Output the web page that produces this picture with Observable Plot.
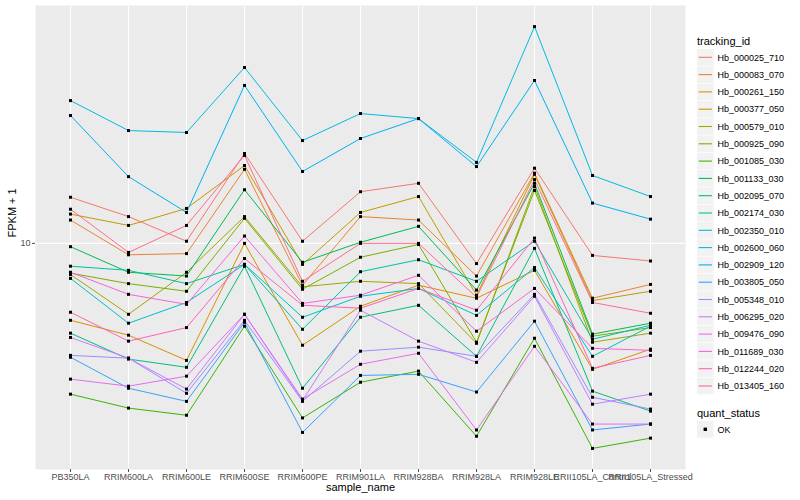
<!DOCTYPE html>
<html>
<head>
<meta charset="utf-8">
<script src="https://cdn.jsdelivr.net/npm/d3@7"></script>
<script src="https://cdn.jsdelivr.net/npm/@observablehq/plot@0.6"></script>
<style>
  html, body { margin: 0; padding: 0; background: white; }
  #chart svg { display: block; }
</style>
</head>
<body>
<div id="chart"></div>
<script>
// x categories
const samples = ["PB350LA","RRIM600LA","RRIM600LE","RRIM600SE","RRIM600PE","RRIM901LA","RRIM928BA","RRIM928LA","RRIM928LE","RRII105LA_Control","RRII105LA_Stressed"];

// tracking ids (legend order)
const trackingIds = ["Hb_000025_710","Hb_000083_070","Hb_000261_150","Hb_000377_050","Hb_000579_010","Hb_000925_090","Hb_001085_030","Hb_001133_030","Hb_002095_070","Hb_002174_030","Hb_002350_010","Hb_002600_060","Hb_002909_120","Hb_003805_050","Hb_005348_010","Hb_006295_020","Hb_009476_090","Hb_011689_030","Hb_012244_020","Hb_013405_160"];

// FPKM + 1 per sample (same order as samples)
const Hb_000025_710 = [15.3, 12.8, 10.2, 22.9, 10.2, 16.1, 17.4, 8.3, 20.0, 8.95, 8.5];
const Hb_000083_070 = [12.4, 9.0, 9.1, 19.8, 6.8, 12.8, 12.4, 7.4, 19.1, 6.03, 6.85];
const Hb_000261_150 = [4.92, 4.29, 3.4, 10.0, 3.91, 5.6, 6.8, 6.03, 7.8, 3.13, 3.77];
const Hb_000377_050 = [13.1, 11.8, 13.8, 20.5, 8.24, 13.3, 15.4, 6.2, 18.9, 5.9, 6.43];
const Hb_000579_010 = [7.5, 5.2, 7.66, 12.8, 6.7, 7.05, 6.9, 3.98, 16.9, 4.02, 4.37];
const Hb_000925_090 = [7.6, 6.9, 6.43, 12.6, 6.55, 8.8, 9.9, 4.02, 16.3, 4.25, 4.6];
const Hb_001085_030 = [2.49, 2.19, 2.05, 4.66, 2.0, 2.78, 3.08, 1.69, 4.17, 1.51, 1.66];
const Hb_001133_030 = [9.7, 7.66, 7.4, 16.4, 8.4, 10.1, 11.7, 6.5, 17.4, 4.33, 4.79];
const Hb_002095_070 = [4.37, 3.44, 3.19, 8.1, 2.63, 5.06, 5.65, 3.53, 9.55, 2.56, 2.13];
const Hb_002174_030 = [8.1, 7.8, 6.9, 8.24, 4.53, 7.7, 8.6, 7.05, 10.2, 4.13, 4.7];
const Hb_002350_010 = [7.24, 4.79, 5.8, 8.24, 5.06, 6.14, 6.6, 5.15, 8.0, 3.53, 4.66];
const Hb_002600_060 = [37.3, 28.3, 27.8, 50.6, 25.8, 33.1, 31.6, 21.1, 73.8, 18.7, 15.4];
const Hb_002909_120 = [32.5, 18.5, 13.3, 42.9, 19.4, 26.3, 31.6, 20.3, 44.9, 14.5, 12.5];
const Hb_003805_050 = [3.5, 2.63, 2.33, 4.83, 1.75, 2.96, 2.99, 2.54, 4.88, 1.79, 1.89];
const Hb_005348_010 = [3.56, 3.47, 2.51, 4.92, 2.33, 3.7, 3.84, 3.53, 6.25, 2.42, 2.17];
const Hb_006295_020 = [4.2, 3.47, 2.61, 5.2, 2.35, 5.4, 4.06, 3.34, 6.14, 2.27, 2.49];
const Hb_009476_090 = [2.86, 2.68, 2.94, 5.2, 2.38, 3.28, 3.63, 1.79, 3.87, 1.89, 1.89];
const Hb_011689_030 = [7.66, 6.25, 5.7, 10.7, 5.75, 6.2, 7.45, 4.45, 6.6, 3.8, 3.73];
const Hb_012244_020 = [5.3, 4.06, 4.6, 8.7, 5.65, 5.5, 6.6, 5.4, 10.5, 3.16, 3.56];
const Hb_013405_160 = [13.7, 9.2, 11.8, 22.5, 7.05, 10.0, 10.0, 6.08, 18.0, 5.8, 5.25];

const yTicks = [10];
const quantStatus = ["OK"];

// ggplot2 default hue palette for 20 levels
const palette = ["#F8766D","#EA8331","#D89000","#C09B00","#A3A500","#7CAE00","#39B600","#00BB4E","#00BF7D","#00C1A3","#00BFC4","#00BAE0","#00B0F6","#35A2FF","#9590FF","#C77CFF","#E76BF3","#FA62DB","#FF62BC","#FF6C91"];

const series = [Hb_000025_710,Hb_000083_070,Hb_000261_150,Hb_000377_050,Hb_000579_010,Hb_000925_090,Hb_001085_030,Hb_001133_030,Hb_002095_070,Hb_002174_030,Hb_002350_010,Hb_002600_060,Hb_002909_120,Hb_003805_050,Hb_005348_010,Hb_006295_020,Hb_009476_090,Hb_011689_030,Hb_012244_020,Hb_013405_160];

const rows = [];
trackingIds.forEach((id, i) => {
  series[i].forEach((v, j) => rows.push({tracking_id: id, sample_name: samples[j], fpkm: v, quant_status: "OK"}));
});

// ggplot-like 5% expansion on log scale
const ext = d3.extent(rows, d => Math.log10(d.fpkm));
const pad = (ext[1] - ext[0]) * 0.05;
const yDomain = [Math.pow(10, ext[0] - pad), Math.pow(10, ext[1] + pad)];

const font = "'Liberation Sans', Arial, Helvetica, sans-serif";

const chart = Plot.plot({
  width: 800,
  height: 500,
  marginLeft: 35,
  marginRight: 115,
  marginTop: 5,
  marginBottom: 31,
  style: {fontFamily: font, background: "white", overflow: "visible"},
  x: {type: "point", domain: samples, padding: 0.6, label: null},
  y: {type: "log", domain: yDomain, label: null},
  color: {domain: trackingIds, range: palette},
  marks: [
    Plot.frame({fill: "#EBEBEB", stroke: null}),
    Plot.gridX({stroke: "white", strokeOpacity: 1, strokeWidth: 1.07}),
    Plot.gridY(yTicks, {stroke: "white", strokeOpacity: 1, strokeWidth: 1.07}),
    Plot.axisX({tickSize: 3, tickPadding: 1, fontSize: 9, color: "#4D4D4D", label: null}),
    Plot.axisY(yTicks, {tickSize: 3, tickPadding: 2, fontSize: 9, color: "#4D4D4D", label: null, tickFormat: d => String(d)}),
    Plot.line(rows, {x: "sample_name", y: "fpkm", z: "tracking_id", stroke: "tracking_id", strokeWidth: 1}),
    Plot.dot(rows, {x: "sample_name", y: "fpkm", fill: "black", r: 1.7, symbol: "square"}),
    Plot.text(["sample_name"], {frameAnchor: "bottom", dy: 21, fontSize: 11, fill: "black"}),
    Plot.text(["FPKM + 1"], {frameAnchor: "left", dx: -23, rotate: -90, fontSize: 11, fill: "black"})
  ]
});

document.getElementById("chart").appendChild(chart);

// Legend (drawn into the same SVG, colours from Plot's color scale)
const cs = chart.scale("color");
const colorOf = d3.scaleOrdinal(cs.domain, cs.range);
const svg = d3.select(chart);
const lg = svg.append("g").attr("font-family", font).attr("text-anchor", "start");
const lx = 697, keyH = 17.3, firstY = 57.3;
lg.append("text").attr("x", lx).attr("y", 44.5).attr("font-size", 11).attr("fill", "black").text("tracking_id");
trackingIds.forEach((id, i) => {
  const cy = firstY + i * keyH;
  lg.append("rect").attr("x", lx).attr("y", cy - 8.3).attr("width", 16.6).attr("height", 16.6).attr("fill", "#F2F2F2").attr("stroke", "none");
  lg.append("line").attr("x1", lx + 1.7).attr("x2", lx + 14.9).attr("y1", cy).attr("y2", cy)
    .attr("stroke", colorOf(id)).attr("stroke-width", 1.1);
  lg.append("text").attr("x", lx + 20.5).attr("y", cy + 3.2).attr("font-size", 9).attr("fill", "black").text(id);
});
lg.append("text").attr("x", lx).attr("y", 416.5).attr("font-size", 11).attr("fill", "black").text("quant_status");
quantStatus.forEach((s, i) => {
  const cy = 429.3 + i * keyH;
  lg.append("rect").attr("x", lx).attr("y", cy - 8.3).attr("width", 16.6).attr("height", 16.6).attr("fill", "#F2F2F2").attr("stroke", "none");
  lg.append("rect").attr("x", lx + 8.3 - 1.7).attr("y", cy - 1.7).attr("width", 3.4).attr("height", 3.4).attr("fill", "black");
  lg.append("text").attr("x", lx + 20.5).attr("y", cy + 3.2).attr("font-size", 9).attr("fill", "black").text(s);
});
</script>
</body>
</html>
